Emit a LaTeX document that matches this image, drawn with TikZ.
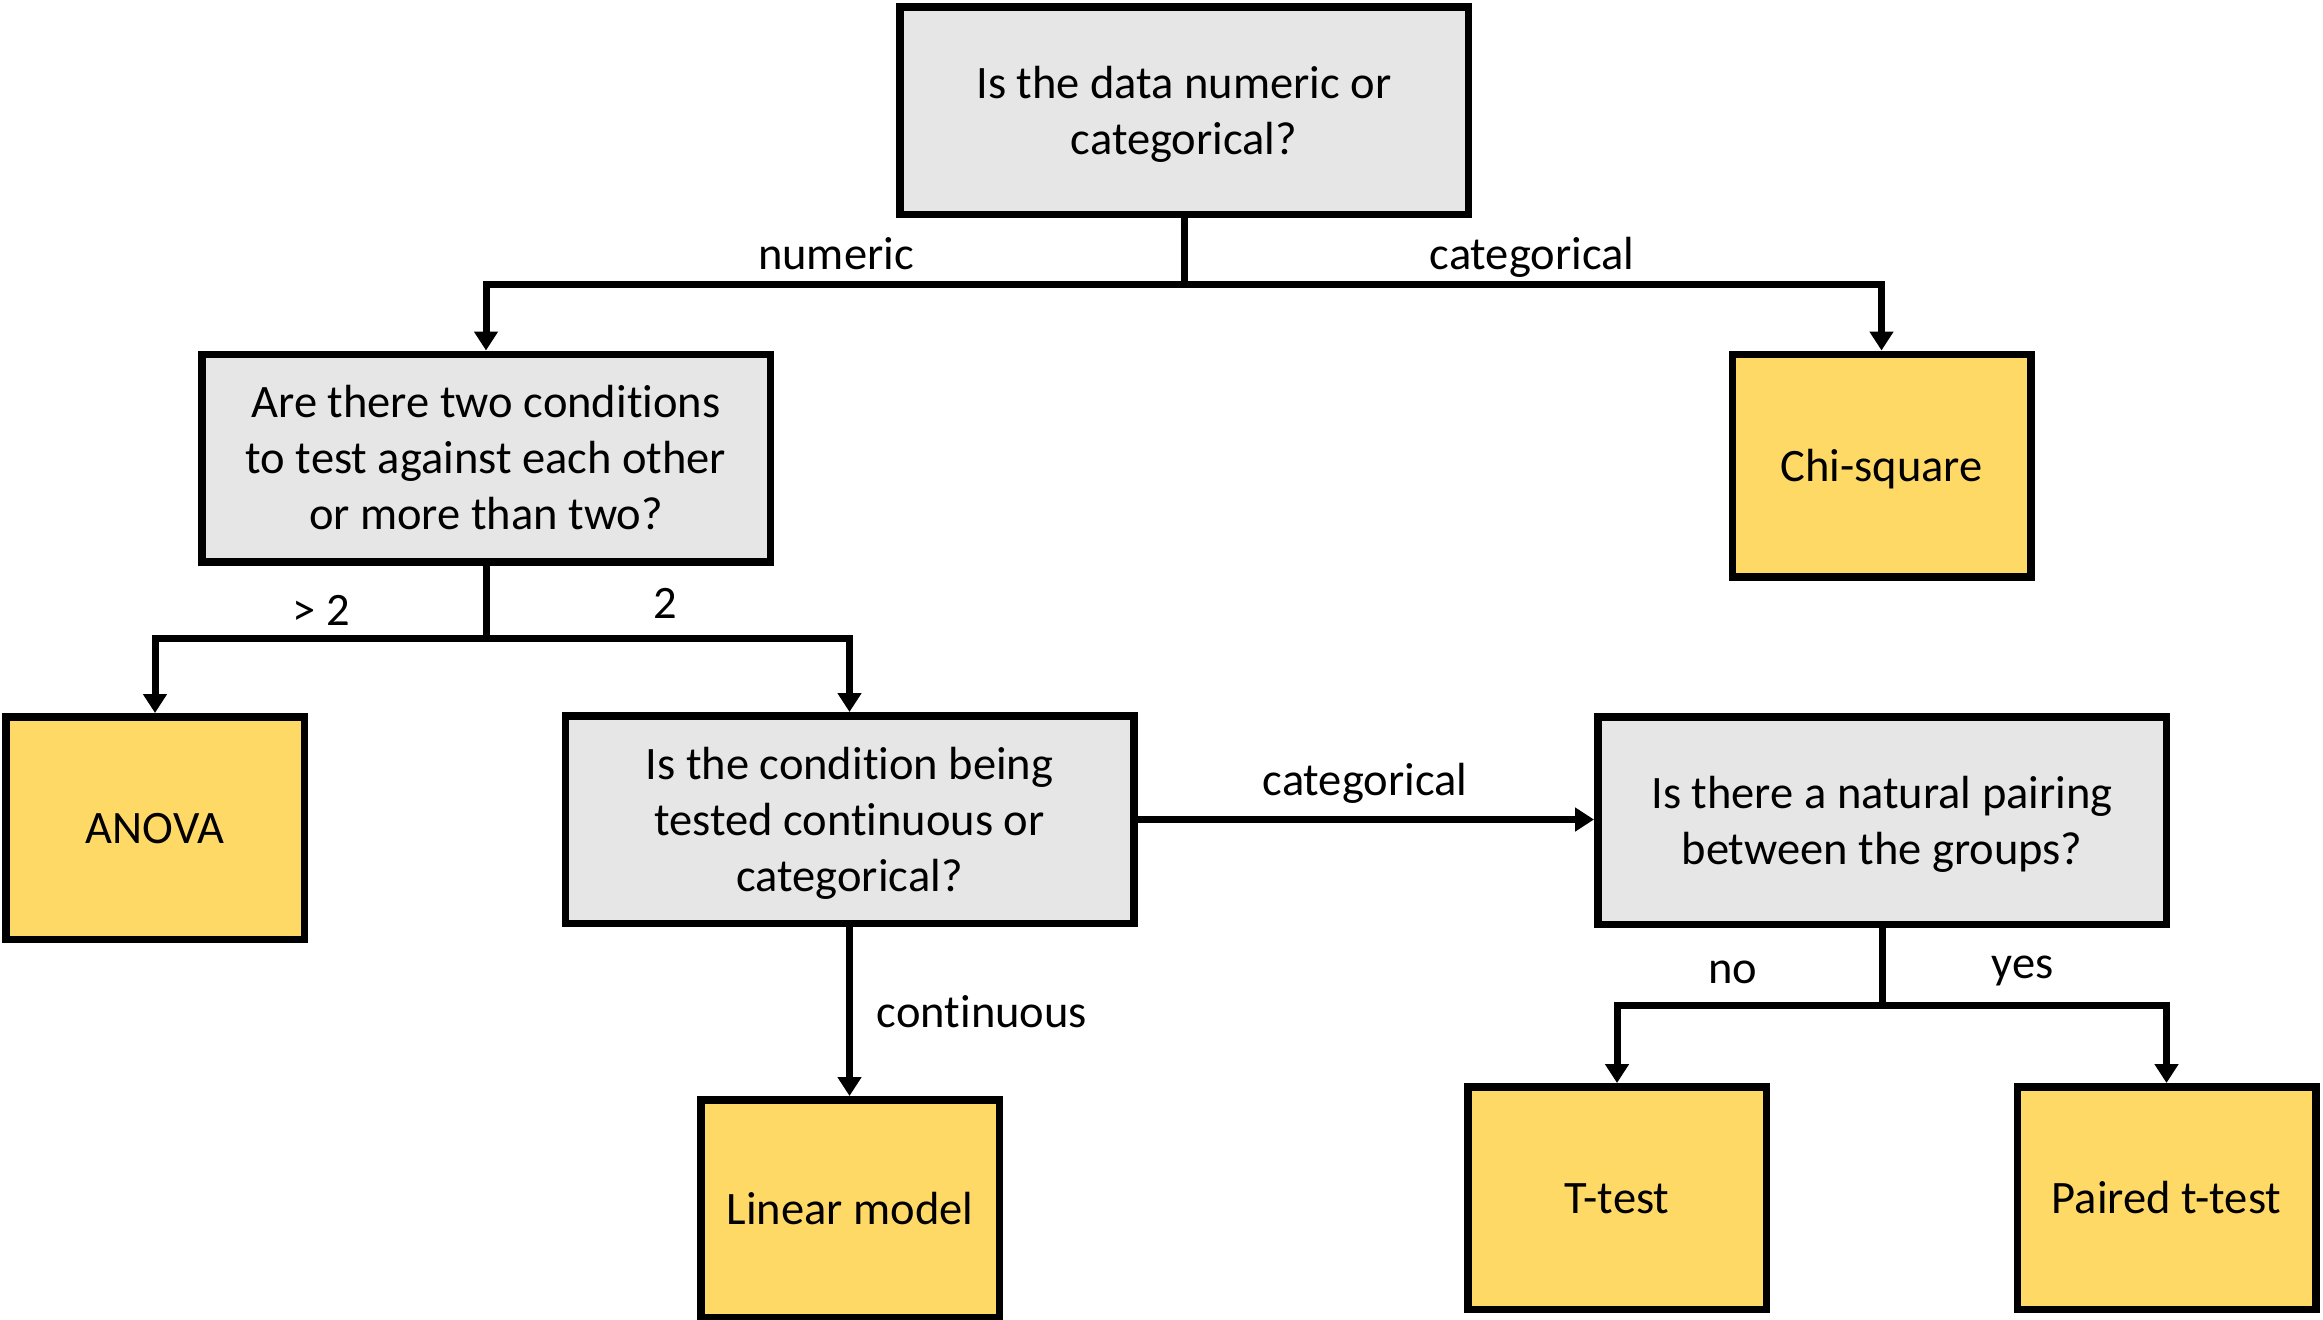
\documentclass[tikz,border=0pt]{standalone}
\usepackage{fontspec}
\setmainfont{Carlito}[Ligatures=NoCommon]
\usetikzlibrary{arrows.meta}
\definecolor{qgray}{HTML}{E6E6E6}
\definecolor{ansgold}{HTML}{FFD966}
% line strut: every text line gets the same ascent/descent
\newcommand{\ls}{\rule[-6.25pt]{0pt}{28pt}}

\begin{document}
\begin{tikzpicture}[x=0.5pt,y=-0.5pt,
  every node/.style={font=\fontsize{23.25}{28}\selectfont},
  box/.style={draw=black, line width=3.75pt, inner sep=0pt, align=center},
  question/.style={box, fill=qgray, minimum width=284.25pt, minimum height=103.75pt},
  answer/.style={box, fill=ansgold, minimum width=149.25pt, minimum height=111.25pt},
  stem/.style={line width=3.5pt},
  conn/.style={stem, -{Triangle[width=11.5pt,length=9.5pt]}},
  lbl/.style={anchor=base, inner sep=0pt}]

\useasboundingbox (0,0) rectangle (2323,1319);

% decision boxes
\node[question] (q1) at (1184,110.5) {\ls Is the data numeric or\\\ls categorical?};
\node[question] (q2) at (486,458) {\ls Are there two conditions\\\ls to test against each other\\\ls or more than two?};
\node[question] (q3) at (849.5,819.5) {\ls Is the condition being\\\ls tested continuous or\\\ls categorical?};
\node[question] (q4) at (1882,820.5) {\ls Is there a natural pairing\\\ls between the groups?};

% outcome boxes
\node[answer] (chi) at (1881.5,465.5) {\ls Chi-square};
\node[answer] (anova) at (155,828) {\ls ANOVA};
\node[answer, minimum height=108.75pt] (linear) at (850,1208.5) {\ls Linear model};
\node[answer] (ttest) at (1617,1198) {\ls T-test};
\node[answer] (paired) at (2166.5,1198) {\ls Paired t-test};

% branching points
\coordinate (j1) at (1184,284.5);
\coordinate (j2) at (486,638);
\coordinate (j3) at (1882,1005);

% connectors
\draw[stem] (q1.south) -- (j1);
\draw[conn] (j1) -| (q2.north);
\draw[conn] (j1) -| (chi.north);

\draw[stem] (q2.south) -- (j2);
\draw[conn] (j2) -| (anova.north);
\draw[conn] (j2) -| (q3.north);

\draw[conn] (q3.east) -- (q3.east -| q4.west);
\draw[conn] (q3.south) -- (q3.south |- linear.north);

\draw[stem] (q4.south) -- (j3);
\draw[conn] (j3) -| (ttest.north);
\draw[conn] (j3) -| (paired.north);

% branch labels
\node[lbl] (lnum) at (836,269) {numeric};
\node[lbl] (lcat1) at (1532,269) {categorical};
\node[lbl] (lmore) at (321,625) {> 2};
\node[lbl] (ltwo) at (665,618) {2};
\node[lbl] (lcat2) at (1365,795) {categorical};
\node[lbl] (lcont) at (982,1027) {continuous};
\node[lbl] (lno) at (1733,983) {no};
\node[lbl] (lyes) at (2022.5,978) {yes};
\end{tikzpicture}
\end{document}
